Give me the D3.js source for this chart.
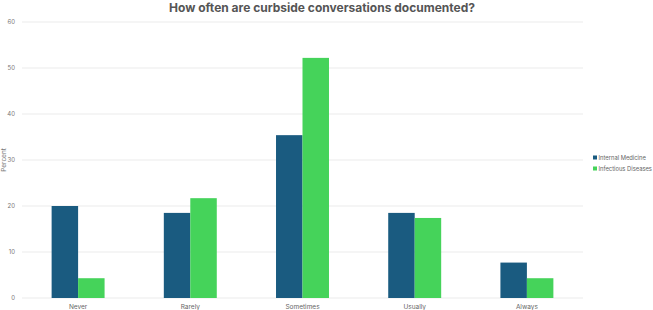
<!DOCTYPE html>
<html>
<head>
<meta charset="utf-8">
<script src="https://cdn.jsdelivr.net/npm/d3@7"></script>
<style>
  body { margin: 0; background: #fff; }
  text { font-family: Inter, "Open Sans", sans-serif; }
</style>
</head>
<body>
<div id="chart"></div>
<script>
var categories = ["Never", "Rarely", "Sometimes", "Usually", "Always"];
var seriesNames = ["Internal Medicine", "Infectious Diseases"];
var internalMedicine = [20.0, 18.5, 35.4, 18.5, 7.7];
var infectiousDiseases = [4.3, 21.7, 52.2, 17.4, 4.3];
var yTicks = [0, 10, 20, 30, 40, 50, 60];
var colors = ["#1a5b80", "#45d35a"];

var svgWidth = 653;
var svgHeight = 310;

var margin = { top: 22, right: 70, bottom: 12, left: 22 };
var width = 583 - margin.left;
var height = 298 - margin.top;

var svg = d3.select("#chart")
  .append("svg")
  .attr("width", svgWidth)
  .attr("height", svgHeight);

var chartGroup = svg.append("g")
  .attr("transform", `translate(${margin.left}, ${margin.top})`);

var xScale = d3.scaleBand()
  .domain(categories)
  .range([0, width])
  .paddingInner(0.528)
  .paddingOuter(0.264);

var xInner = d3.scaleBand()
  .domain(seriesNames)
  .range([0, xScale.bandwidth()]);

var yScale = d3.scaleLinear()
  .domain([0, 60])
  .range([height, 0]);

// gridlines
chartGroup.append("g")
  .selectAll("line")
  .data(yTicks)
  .enter()
  .append("line")
  .attr("x1", 0)
  .attr("x2", width)
  .attr("y1", d => yScale(d))
  .attr("y2", d => yScale(d))
  .attr("stroke", "#ebebeb")
  .attr("stroke-width", 1);

var leftAxis = d3.axisLeft(yScale).tickValues(yTicks).tickSize(0).tickPadding(7);
var yAxis = chartGroup.append("g").call(leftAxis);
yAxis.select(".domain").remove();
yAxis.selectAll("text")
  .attr("font-size", "6px")
  .attr("fill", "#777");

var bottomAxis = d3.axisBottom(xScale).tickSize(0).tickPadding(6);
var xAxis = chartGroup.append("g")
  .attr("transform", `translate(0, ${height})`)
  .call(bottomAxis);
xAxis.select(".domain").remove();
xAxis.selectAll("text")
  .attr("font-size", "6.5px")
  .attr("fill", "#666");

var rows = categories.map((c, i) => ({
  category: c,
  values: [internalMedicine[i], infectiousDiseases[i]]
}));

var groups = chartGroup.selectAll(".group")
  .data(rows)
  .enter()
  .append("g")
  .attr("class", "group")
  .attr("transform", d => `translate(${xScale(d.category)}, 0)`);

groups.selectAll("rect")
  .data(d => d.values.map((v, j) => ({ name: seriesNames[j], value: v, idx: j })))
  .enter()
  .append("rect")
  .attr("x", d => xInner(d.name))
  .attr("y", d => yScale(d.value))
  .attr("width", xInner.bandwidth())
  .attr("height", d => height - yScale(d.value))
  .attr("fill", d => colors[d.idx]);

// title
svg.append("text")
  .attr("x", 322)
  .attr("y", 12)
  .attr("text-anchor", "middle")
  .attr("font-size", "12px")
  .attr("font-weight", "bold")
  .attr("fill", "#555")
  .text("How often are curbside conversations documented?");

// y axis title
svg.append("text")
  .attr("transform", "rotate(-90)")
  .attr("x", -160)
  .attr("y", 6)
  .attr("text-anchor", "middle")
  .attr("font-size", "6.5px")
  .attr("fill", "#777")
  .text("Percent");

// legend
var legend = svg.append("g")
  .attr("transform", "translate(593, 158)");

var legendItems = legend.selectAll("g")
  .data(seriesNames)
  .enter()
  .append("g")
  .attr("transform", (d, i) => `translate(0, ${i * 11})`);

legendItems.append("rect")
  .attr("x", 0)
  .attr("y", -2.5)
  .attr("width", 4)
  .attr("height", 4)
  .attr("fill", (d, i) => colors[i]);

legendItems.append("text")
  .attr("x", 5.5)
  .attr("y", 2)
  .attr("font-size", "5.8px")
  .attr("fill", "#666")
  .text(d => d);
</script>
</body>
</html>
